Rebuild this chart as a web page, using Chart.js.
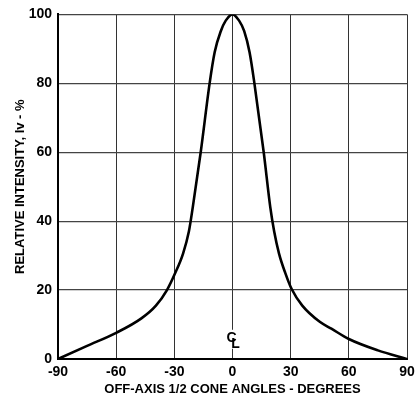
<!DOCTYPE html>
<html>
<head>
<meta charset="utf-8">
<script src="https://cdn.jsdelivr.net/npm/chart.js@4/dist/chart.umd.min.js"></script>
<style>
  html, body { margin: 0; padding: 0; background: #fff; }
  #wrap { width: 420px; height: 403px; }
</style>
</head>
<body>
<div id="wrap"><canvas id="cone"></canvas></div>
<script>
/* ── DATA ───────────────────────────────────── */
const angles    = [-90, -75, -60, -47, -39.5, -33.8, -29.5, -25.5, -22.5, -20.5, -16.4, -11.8, -9.2, -6, -3.5, 0,
                   3.4, 6, 8.8, 11.3, 16.1, 19.5, 21.5, 24, 27.2, 30.5, 36, 45, 51, 60, 75, 90];
const intensity = [0, 3.8, 7.6, 11.8, 15.5, 20, 25, 30.6, 37, 44, 60, 80, 89, 95.2, 98.2, 100,
                   98.2, 95.2, 89, 80, 60, 44, 37, 30.6, 25, 20.3, 15.5, 10.8, 8.8, 5.8, 2.5, 0];
const xTicks = [-90, -60, -30, 0, 30, 60, 90];
const yTicks = [0, 20, 40, 60, 80, 100];
const centreMark = { x: 0, y: 5 };

const FONT = '"Liberation Sans Narrow", "Arial Narrow", "Liberation Sans", Arial, sans-serif';

/* ── CENTRE-LINE MARK ───────────────────────── */
const centreLine = {
    id: 'centreLine',
    afterDatasetsDraw(chart) {
        const { ctx, scales: { x, y } } = chart;
        const px = x.getPixelForValue(centreMark.x);
        const py = y.getPixelForValue(centreMark.y);
        ctx.save();
        ctx.fillStyle = '#fff';
        ctx.fillRect(px - 7, py - 12, 14, 19);
        ctx.fillStyle = '#000';
        ctx.font = 'bold 14px ' + FONT;
        ctx.textAlign = 'center';
        ctx.textBaseline = 'alphabetic';
        ctx.fillText('C', px - 1, py + 0.5);
        ctx.fillText('L', px + 3, py + 6);
        ctx.restore();
    }
};

const data = angles.map((a, i) => ({ x: a, y: intensity[i] }));

new Chart(document.getElementById('cone'), {
    type: 'line',
    data: {
        datasets: [{
            data,
            borderColor: '#000',
            borderWidth: 2.6,
            pointRadius: 0,
            fill: false,
            cubicInterpolationMode: 'monotone'
        }]
    },
    options: {
        responsive: true,
        maintainAspectRatio: false,
        animation: false,
        layout: { padding: { left: 0, right: 13, top: 12, bottom: 0 } },
        plugins: { legend: { display: false }, tooltip: { enabled: false } },
        scales: {
            x: {
                type: 'linear',
                min: -90, max: 90,
                afterBuildTicks: s => { s.ticks = xTicks.map(v => ({ value: v })); },
                afterFit: s => { s.height = 44; },
                grid: { color: '#333', lineWidth: 1, drawTicks: false },
                border: { color: '#000', width: 2 },
                ticks: { color: '#000', padding: 5, font: { family: FONT, size: 14, weight: 'bold' }, maxRotation: 0 },
                title: {
                    display: true,
                    text: 'OFF-AXIS 1/2 CONE ANGLES - DEGREES',
                    color: '#000',
                    font: { family: FONT, size: 13, weight: 'bold' },
                    padding: { top: 0, bottom: 6 }
                }
            },
            y: {
                min: 0, max: 100,
                afterBuildTicks: s => { s.ticks = yTicks.map(v => ({ value: v })); },
                afterFit: s => { s.width = 58; },
                grid: { color: '#444', lineWidth: 1.2, drawTicks: false },
                border: { color: '#000', width: 2 },
                ticks: { color: '#000', padding: 6, font: { family: FONT, size: 14, weight: 'bold' } },
                title: {
                    display: true,
                    text: 'RELATIVE INTENSITY, Iv - %',
                    color: '#000',
                    font: { family: FONT, size: 13, weight: 'bold' },
                    padding: { top: 13, bottom: 0 }
                }
            }
        }
    },
    plugins: [centreLine]
});
</script>
</body>
</html>
